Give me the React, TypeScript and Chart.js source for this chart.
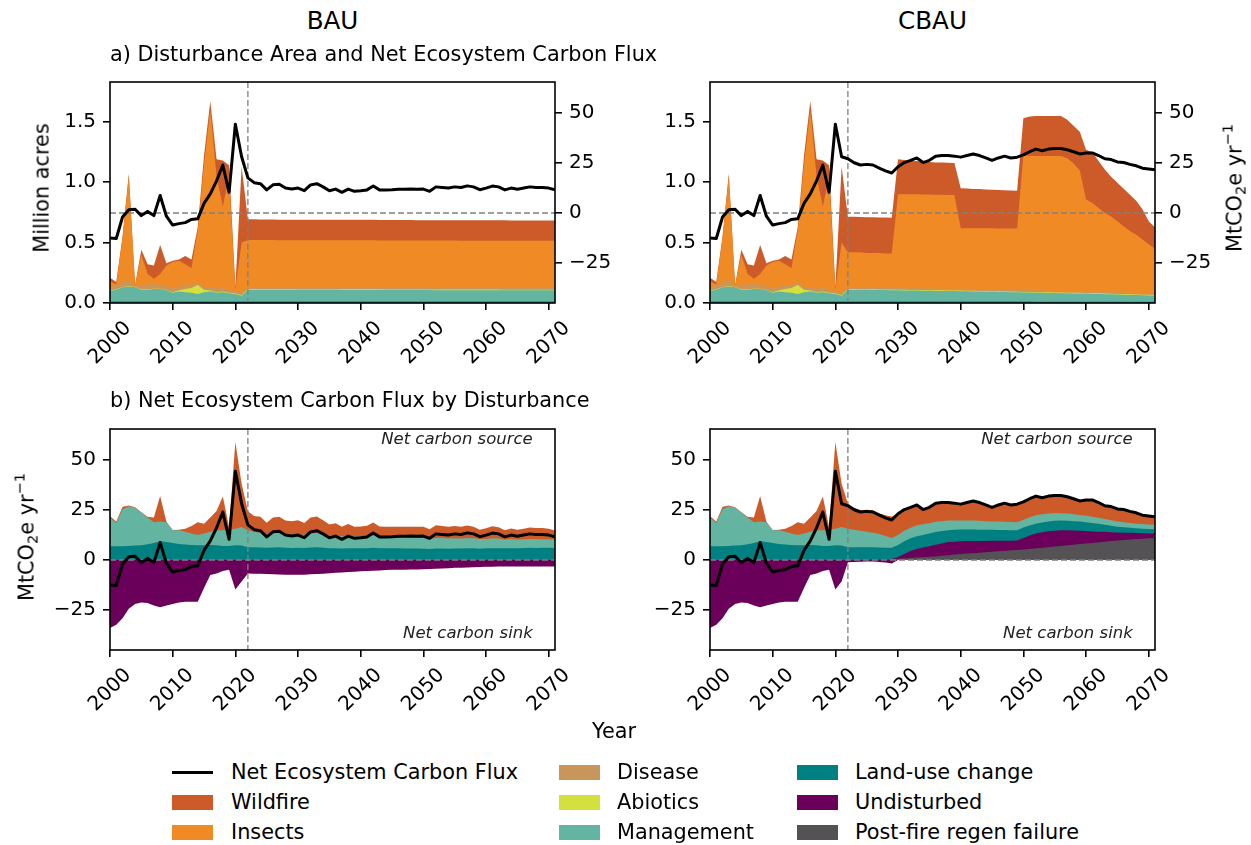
import React, { useEffect, useRef } from 'react';
import { Chart, registerables } from 'chart.js';
Chart.register(...registerables);

const FONT = '"DejaVu Sans"';
const TICK_PX = 20;
const TEXT_PX = 20.8;

// ---------------- categories / ticks ----------------
const YEARS = Array.from({ length: 72 }, (_, i) => 2000 + i);
const X_MIN = 2000;
const X_MAX = 2071;
const PROJECTION_YEAR = 2022;
const X_TICKS = [2000, 2010, 2020, 2030, 2040, 2050, 2060, 2070];
const X_TICK_LABELS = ['2000', '2010', '2020', '2030', '2040', '2050', '2060', '2070'];
const AREA_TICKS = [0, 0.5, 1.0, 1.5];
const FLUX_TICKS = [-25, 0, 25, 50];
const AREA_MIN = 0, AREA_MAX = 1.83;
const FLUX_MIN = -44.8, FLUX_MAX = 65.2;

// ---------------- historical 2000-2021 (shared) ----------------
// disturbance area, million acres
const H_LUC_A = [0.012, 0.012, 0.012, 0.012, 0.012, 0.012, 0.012, 0.012, 0.012, 0.012, 0.012, 0.012, 0.012, 0.012, 0.012, 0.012, 0.012, 0.012, 0.012, 0.012, 0.012, 0.012];
const H_MGMT_A = [0.088, 0.098, 0.118, 0.123, 0.118, 0.098, 0.098, 0.103, 0.103, 0.093, 0.073, 0.083, 0.078, 0.073, 0.063, 0.078, 0.083, 0.073, 0.078, 0.068, 0.063, 0.048];
const H_ABIO_A = [0.003, 0.003, 0.003, 0.003, 0.003, 0.003, 0.003, 0.003, 0.003, 0.003, 0.005, 0.010, 0.025, 0.040, 0.075, 0.020, 0.008, 0.005, 0.005, 0.005, 0.005, 0.005];
const H_DIS_A = [0.03, 0.03, 0.04, 0.05, 0.015, 0.03, 0.04, 0.04, 0.03, 0.03, 0.03, 0.03, 0.03, 0.025, 0.02, 0.02, 0.03, 0.03, 0.03, 0.02, 0.02, 0.02];
const H_INS_A = [0.047, 0.01, 0.367, 0.862, 0, 0.257, 0.087, 0.042, 0.092, 0.172, 0.22, 0.215, 0.175, 0.14, 0.43, 1.02, 1.467, 0.93, 0.675, 0.945, 0.01, 0.415];
const H_WF_A = [0.03, 0.02, 0.01, 0.02, 0, 0.04, 0.08, 0.11, 0.24, 0.02, 0.01, 0.01, 0.07, 0.07, 0.03, 0.07, 0.07, 0.14, 0.38, 0.09, 0.02, 0.63];
// carbon flux, MtCO2e/yr
const H_FLUX = [-12.4, -12.7, -2.0, 1.6, 1.9, -1.3, 0.8, -1.3, 8.7, -1.6, -6.0, -5.3, -4.8, -3.2, -2.9, 4.8, 9.5, 16.0, 23.9, 10.3, 44.2, 28.0];
const H_LUC_F = [6.9, 6.9, 6.9, 7.0, 7.2, 7.4, 7.8, 8.5, 9.3, 9.0, 8.5, 8.0, 7.7, 7.5, 7.3, 7.4, 7.5, 7.3, 7.0, 7.0, 7.3, 7.2];
const H_MGMT_F = [14.3, 11.6, 18.3, 19.8, 18.8, 16.2, 13.4, 10.3, 9.9, 9.8, 6.3, 6.8, 6.3, 5.7, 5.2, 5.8, 6.5, 7.5, 7.8, 8.2, 8.3, 9.2];
const H_WF_F = [0.6, 0.7, 1.3, 0.3, 0.3, 0.2, 0.3, 2.4, 12.7, 0.2, 0.1, 0.2, 1.6, 3.7, 6.3, 4.8, 7.2, 9.6, 16.8, 1.2, 43.1, 21.6];
const H_UND_F = [-33.8, -32.2, -29.0, -24.3, -21.9, -21.1, -21.4, -22.7, -23.5, -22.7, -21.9, -21.1, -20.8, -20.8, -20.8, -13.9, -7.5, -6.7, -5.5, -4.8, -14.7, -10.7];
const H_PF_F = [0, 0, 0, 0, 0, 0, 0, 0, 0, 0, 0, 0, 0, 0, 0, 0, 0, 0, 0, 0, 0, 0];

// ---------------- BAU projection 2022-2071 ----------------
const BAU_LUC_A = [0.012, 0.012, 0.012, 0.012, 0.012, 0.012, 0.012, 0.012, 0.012, 0.012, 0.012, 0.012, 0.012, 0.012, 0.012, 0.012, 0.012, 0.012, 0.012, 0.012, 0.012, 0.012, 0.012, 0.012, 0.012, 0.012, 0.012, 0.012, 0.012, 0.012, 0.012, 0.012, 0.012, 0.012, 0.012, 0.012, 0.012, 0.012, 0.012, 0.012, 0.012, 0.012, 0.012, 0.012, 0.012, 0.012, 0.012, 0.012, 0.012, 0.012];
const BAU_MGMT_A = [0.098, 0.098, 0.098, 0.098, 0.098, 0.098, 0.098, 0.098, 0.097, 0.097, 0.097, 0.097, 0.097, 0.097, 0.097, 0.096, 0.096, 0.096, 0.096, 0.096, 0.096, 0.096, 0.095, 0.095, 0.095, 0.095, 0.095, 0.095, 0.095, 0.095, 0.094, 0.094, 0.094, 0.094, 0.094, 0.094, 0.094, 0.094, 0.094, 0.094, 0.094, 0.093, 0.093, 0.093, 0.093, 0.093, 0.093, 0.093, 0.093, 0.093];
const BAU_ABIO_A = [0.005, 0.005, 0.005, 0.005, 0.005, 0.005, 0.005, 0.005, 0.005, 0.005, 0.005, 0.005, 0.005, 0.005, 0.005, 0.005, 0.005, 0.005, 0.005, 0.005, 0.005, 0.005, 0.005, 0.005, 0.005, 0.005, 0.005, 0.005, 0.005, 0.005, 0.005, 0.005, 0.005, 0.005, 0.005, 0.005, 0.005, 0.005, 0.005, 0.005, 0.005, 0.005, 0.005, 0.005, 0.005, 0.005, 0.005, 0.005, 0.005, 0.005];
const BAU_DIS_A = [0.015, 0.015, 0.015, 0.015, 0.015, 0.015, 0.015, 0.015, 0.015, 0.015, 0.015, 0.015, 0.015, 0.015, 0.015, 0.015, 0.015, 0.015, 0.015, 0.015, 0.015, 0.015, 0.015, 0.015, 0.015, 0.015, 0.015, 0.015, 0.015, 0.015, 0.015, 0.015, 0.015, 0.015, 0.015, 0.015, 0.015, 0.015, 0.015, 0.015, 0.015, 0.015, 0.015, 0.015, 0.015, 0.015, 0.015, 0.015, 0.015, 0.015];
const BAU_INS_A = [0.392, 0.392, 0.391, 0.391, 0.391, 0.390, 0.390, 0.390, 0.391, 0.391, 0.391, 0.391, 0.390, 0.390, 0.390, 0.391, 0.391, 0.391, 0.391, 0.391, 0.391, 0.390, 0.391, 0.391, 0.391, 0.391, 0.391, 0.390, 0.390, 0.390, 0.391, 0.391, 0.391, 0.391, 0.390, 0.390, 0.390, 0.390, 0.390, 0.390, 0.390, 0.391, 0.391, 0.391, 0.391, 0.390, 0.390, 0.390, 0.390, 0.390];
const BAU_WF_A = [0.172, 0.172, 0.171, 0.171, 0.170, 0.170, 0.170, 0.170, 0.170, 0.170, 0.170, 0.170, 0.170, 0.170, 0.170, 0.170, 0.170, 0.170, 0.170, 0.170, 0.170, 0.170, 0.170, 0.170, 0.170, 0.170, 0.170, 0.169, 0.169, 0.169, 0.169, 0.169, 0.169, 0.169, 0.169, 0.169, 0.169, 0.169, 0.169, 0.169, 0.169, 0.169, 0.168, 0.168, 0.168, 0.168, 0.168, 0.168, 0.168, 0.168];
const BAU_FLUX = [17.5, 15.1, 14.6, 11.5, 14.0, 14.3, 12.4, 11.9, 12.4, 11.1, 14.0, 14.6, 13.0, 11.1, 11.9, 10.3, 11.9, 10.8, 11.1, 11.5, 13.4, 11.5, 11.5, 11.6, 11.8, 11.8, 11.9, 11.8, 11.9, 10.8, 13.0, 12.7, 12.4, 13.0, 12.7, 13.5, 13.0, 11.6, 12.4, 13.4, 13.0, 11.5, 12.4, 11.8, 12.4, 13.0, 12.7, 12.7, 12.4, 11.5];
const BAU_LUC_F = [6.4, 6.3, 6.2, 6.1, 6.2, 6.3, 6.1, 6.0, 6.1, 6.0, 6.2, 6.3, 6.1, 5.8, 5.9, 5.7, 5.9, 5.8, 5.9, 5.9, 6.1, 5.9, 5.8, 5.8, 5.8, 5.7, 5.7, 5.7, 5.6, 5.5, 5.7, 5.7, 5.6, 5.7, 5.7, 5.8, 5.8, 5.6, 5.8, 5.9, 5.9, 5.8, 5.9, 5.9, 6.0, 6.1, 6.0, 6.1, 6.1, 6.0];
const BAU_MGMT_F = [8.4, 7.7, 7.4, 6.7, 7.2, 7.3, 7.1, 6.8, 6.4, 6.6, 7.0, 7.1, 6.8, 6.3, 6.4, 6.1, 6.3, 6.0, 5.8, 5.9, 6.2, 5.8, 5.7, 5.4, 5.5, 5.5, 5.4, 5.3, 5.3, 5.1, 5.3, 5.2, 5.1, 5.1, 5.0, 5.1, 5.0, 4.8, 4.7, 4.9, 4.8, 4.4, 4.5, 4.3, 4.3, 4.4, 4.4, 4.2, 4.2, 4.1];
const BAU_WF_F = [9.4, 7.9, 7.9, 5.7, 7.7, 7.9, 6.5, 6.5, 7.3, 5.8, 7.9, 8.2, 6.9, 5.6, 6.0, 4.7, 5.7, 4.8, 5.0, 5.2, 6.4, 5.0, 5.0, 5.3, 5.3, 5.4, 5.5, 5.5, 5.6, 4.7, 6.3, 6.0, 5.8, 6.1, 5.8, 6.3, 5.8, 4.7, 5.3, 6.0, 5.6, 4.6, 5.3, 4.8, 5.3, 5.7, 5.5, 5.6, 5.3, 4.6];
const BAU_UND_F = [-6.7, -6.8, -6.9, -7.0, -7.1, -7.2, -7.3, -7.4, -7.4, -7.3, -7.1, -7.0, -6.8, -6.6, -6.4, -6.2, -6.0, -5.8, -5.6, -5.5, -5.3, -5.2, -5.0, -4.9, -4.8, -4.8, -4.7, -4.7, -4.6, -4.5, -4.3, -4.2, -4.1, -3.9, -3.8, -3.7, -3.6, -3.5, -3.4, -3.4, -3.3, -3.3, -3.3, -3.2, -3.2, -3.2, -3.2, -3.2, -3.2, -3.2];

// ---------------- CBAU projection 2022-2071 ----------------
const CB_LUC_A = [0.012, 0.012, 0.012, 0.012, 0.012, 0.012, 0.012, 0.012, 0.012, 0.012, 0.012, 0.012, 0.012, 0.012, 0.012, 0.012, 0.012, 0.012, 0.012, 0.012, 0.012, 0.012, 0.012, 0.012, 0.012, 0.012, 0.012, 0.012, 0.012, 0.012, 0.011, 0.011, 0.011, 0.011, 0.011, 0.011, 0.011, 0.011, 0.011, 0.011, 0.010, 0.010, 0.010, 0.010, 0.010, 0.010, 0.010, 0.010, 0.010, 0.010];
const CB_MGMT_A = [0.098, 0.098, 0.097, 0.097, 0.096, 0.095, 0.095, 0.094, 0.093, 0.092, 0.091, 0.091, 0.090, 0.089, 0.088, 0.088, 0.087, 0.087, 0.086, 0.085, 0.084, 0.083, 0.082, 0.081, 0.080, 0.079, 0.078, 0.077, 0.075, 0.074, 0.074, 0.073, 0.072, 0.071, 0.070, 0.069, 0.068, 0.068, 0.067, 0.066, 0.065, 0.063, 0.062, 0.060, 0.059, 0.057, 0.056, 0.054, 0.053, 0.051];
const CB_ABIO_A = [0.005, 0.005, 0.005, 0.005, 0.005, 0.005, 0.005, 0.005, 0.005, 0.005, 0.005, 0.005, 0.005, 0.005, 0.005, 0.005, 0.005, 0.005, 0.005, 0.005, 0.005, 0.005, 0.005, 0.005, 0.005, 0.005, 0.005, 0.005, 0.005, 0.005, 0.005, 0.005, 0.005, 0.005, 0.005, 0.005, 0.005, 0.005, 0.005, 0.005, 0.005, 0.005, 0.005, 0.005, 0.005, 0.005, 0.005, 0.005, 0.005, 0.005];
const CB_DIS_A = [0.015, 0.015, 0.015, 0.015, 0.015, 0.015, 0.015, 0.015, 0.015, 0.015, 0.015, 0.015, 0.015, 0.015, 0.015, 0.015, 0.015, 0.015, 0.015, 0.015, 0.015, 0.015, 0.015, 0.015, 0.015, 0.015, 0.015, 0.015, 0.015, 0.015, 0.014, 0.014, 0.014, 0.014, 0.014, 0.014, 0.014, 0.014, 0.014, 0.014, 0.013, 0.013, 0.013, 0.013, 0.013, 0.013, 0.013, 0.013, 0.013, 0.013];
const CB_INS_A = [0.29, 0.29, 0.291, 0.286, 0.287, 0.288, 0.283, 0.284, 0.775, 0.776, 0.777, 0.777, 0.776, 0.777, 0.776, 0.776, 0.776, 0.775, 0.502, 0.503, 0.503, 0.504, 0.504, 0.505, 0.505, 0.506, 0.506, 0.507, 1.113, 1.114, 1.114, 1.115, 1.116, 1.117, 1.118, 1.099, 1.06, 1.0, 0.761, 0.732, 0.693, 0.655, 0.626, 0.588, 0.549, 0.511, 0.482, 0.444, 0.405, 0.372];
const CB_WF_A = [0.294, 0.294, 0.293, 0.296, 0.295, 0.294, 0.297, 0.296, 0.29, 0.285, 0.28, 0.275, 0.272, 0.27, 0.268, 0.268, 0.266, 0.266, 0.33, 0.328, 0.326, 0.324, 0.322, 0.32, 0.318, 0.316, 0.315, 0.314, 0.31, 0.325, 0.33, 0.33, 0.33, 0.33, 0.33, 0.32, 0.31, 0.32, 0.41, 0.42, 0.39, 0.36, 0.33, 0.32, 0.31, 0.30, 0.28, 0.25, 0.19, 0.175];
const CB_FLUX = [27.0, 25.0, 23.9, 24.2, 23.9, 22.3, 21.0, 19.9, 23.0, 25.1, 26.2, 27.4, 25.1, 26.2, 28.3, 28.6, 28.6, 28.3, 27.8, 28.6, 29.4, 28.6, 27.4, 26.2, 27.4, 28.3, 27.4, 27.8, 28.9, 30.5, 31.8, 31.0, 31.8, 32.1, 32.1, 31.5, 30.5, 29.4, 29.9, 29.9, 28.6, 27.0, 26.6, 25.4, 25.1, 24.2, 23.5, 22.3, 21.9, 21.5];
const CB_PF_F = [0, 0, 0, 0.1, 0.2, 0.3, 0.4, 0.5, 0.6, 0.8, 1.0, 1.2, 1.4, 1.6, 1.8, 2.1, 2.4, 2.7, 3.0, 3.2, 3.4, 3.6, 3.9, 4.1, 4.3, 4.5, 4.8, 5.0, 5.2, 5.5, 5.8, 6.1, 6.4, 6.7, 7.0, 7.3, 7.6, 7.9, 8.2, 8.5, 8.8, 9.1, 9.4, 9.7, 10.0, 10.2, 10.4, 10.6, 10.8, 11.0];
const CB_UND_F = [-1.1, -1.0, -0.9, -0.8, -0.8, -1.0, -1.3, -1.8, 0.9, 2.2, 3.5, 4.3, 4.8, 5.3, 5.8, 6.1, 6.5, 6.4, 6.3, 6.2, 6.1, 5.9, 5.6, 5.5, 5.3, 5.1, 4.8, 4.7, 5.8, 6.7, 7.4, 7.7, 7.9, 7.9, 7.8, 7.5, 7.1, 6.7, 6.2, 5.7, 5.3, 4.9, 4.4, 4.0, 3.6, 3.3, 3.0, 2.7, 2.4, 2.2];
const CB_LUC_F = [6.4, 6.4, 6.3, 6.3, 6.1, 5.9, 5.7, 5.6, 6.0, 6.3, 6.3, 6.3, 6.3, 6.3, 6.3, 6.2, 5.9, 5.9, 5.9, 5.8, 5.7, 5.6, 5.5, 5.4, 5.3, 5.3, 5.2, 5.1, 5.2, 5.0, 4.8, 4.9, 4.9, 4.9, 4.8, 4.7, 4.6, 4.5, 4.4, 4.2, 3.9, 3.5, 3.2, 2.9, 2.7, 2.5, 2.4, 2.3, 2.2, 2.1];
const CB_MGMT_F = [9.2, 8.6, 8.3, 7.6, 7.3, 6.7, 5.9, 4.8, 5.0, 5.2, 5.2, 5.5, 5.3, 5.1, 5.1, 4.9, 4.8, 4.6, 4.4, 4.4, 4.4, 4.4, 4.3, 4.2, 4.2, 4.1, 4.1, 4.0, 3.8, 4.1, 4.3, 4.1, 4.0, 3.9, 3.7, 3.6, 3.5, 3.3, 3.2, 3.1, 3.0, 2.9, 2.8, 2.6, 2.5, 2.4, 2.3, 2.3, 2.3, 2.3];
const CB_WF_F = [12.5, 11.0, 10.2, 11.0, 11.1, 10.4, 10.3, 10.8, 10.5, 10.6, 10.2, 10.1, 7.3, 7.9, 9.3, 9.3, 9.0, 8.7, 8.2, 9.0, 9.8, 9.1, 8.1, 7.0, 8.3, 9.3, 8.5, 9.0, 8.9, 9.2, 9.5, 8.2, 8.6, 8.7, 8.8, 8.4, 7.7, 7.0, 7.9, 8.4, 7.6, 6.6, 6.8, 6.2, 6.3, 5.8, 5.4, 4.4, 4.2, 3.9];

// ---------------- colours ----------------
const C_WILDFIRE = '#CD5B2A';
const C_INSECTS = '#F08A24';
const C_DISEASE = '#C8965A';
const C_ABIOTICS = '#D4E03E';
const C_MGMT = '#63B4A1';
const C_LUC = '#008080';
const C_UND = '#6A005A';
const C_PF = '#545254';
const C_REF = '#808080';

const LEGEND_LABELS = ['Net Ecosystem Carbon Flux', 'Wildfire', 'Insects', 'Disease', 'Abiotics', 'Management', 'Land-use change', 'Undisturbed', 'Post-fire regen failure'];
const LEGEND_COLORS = ['#000000', C_WILDFIRE, C_INSECTS, C_DISEASE, C_ABIOTICS, C_MGMT, C_LUC, C_UND, C_PF];

// ---------------- layout ----------------
const PW = 445, PH = 230;
const ML = 80, MR = 80, MT = 10, MB = 80;
const CW = PW + ML + MR, CH = PH + MT + MB;

// ---------------- helpers ----------------
const pts = (ys: number[]) => ys.map((y, i) => ({ x: YEARS[i], y }));

function stackPositive(layers: number[][]) {
  const out: number[][] = [];
  let acc = layers[0].map(() => 0);
  for (const l of layers) {
    acc = acc.map((a, i) => a + Math.max(0, l[i]));
    out.push(acc);
  }
  return out;
}

function areaDataset(values: number[], color: string, axis: string) {
  return {
    type: 'line',
    data: pts(values),
    yAxisID: axis,
    fill: 'origin',
    backgroundColor: color,
    borderColor: 'rgba(0,0,0,0)',
    borderWidth: 0,
    pointRadius: 0,
    tension: 0,
  };
}

function fluxDataset(values: number[], axis: string) {
  return {
    type: 'line',
    data: pts(values),
    yAxisID: axis,
    fill: false,
    borderColor: '#000000',
    borderWidth: 3,
    borderJoinStyle: 'round',
    pointRadius: 0,
    tension: 0,
  };
}

const gridOpts = {
  display: true,
  drawOnChartArea: false,
  drawTicks: true,
  tickLength: 7,
  tickWidth: 1.6,
  tickColor: '#000000',
  lineWidth: 1.6,
  color: '#000000',
};

const fmtFlux = (v: number) => (v < 0 ? '\u2212' + Math.abs(v) : String(v));

function yAxis(position: string, min: number, max: number, ticks: number[], fmt: (v: number) => string) {
  return {
    type: 'linear',
    position,
    min,
    max,
    afterBuildTicks: (s: any) => { s.ticks = ticks.map((v) => ({ value: v })); },
    ticks: { font: { family: 'DejaVu Sans', size: TICK_PX }, color: '#000000', padding: 7, autoSkip: false, callback: (v: any) => fmt(Number(v)) },
    grid: gridOpts,
    border: { display: false },
    afterFit: (s: any) => { s.width = position === 'left' ? ML : MR; },
  };
}

const xAxis = () => ({
  type: 'linear',
  min: X_MIN,
  max: X_MAX,
  afterBuildTicks: (s: any) => { s.ticks = X_TICKS.map((v) => ({ value: v })); },
  ticks: { display: false },
  grid: gridOpts,
  border: { display: false },
  afterFit: (s: any) => { s.height = MB; },
});

const figPlugin = {
  id: 'fig',
  beforeDatasetDraw(chart: any, args: any, opts: any) {
    if (args.index !== 0) return;
    const { ctx, chartArea: ca, scales } = chart;
    ctx.save();
    ctx.strokeStyle = C_REF;
    ctx.lineWidth = 1.3;
    ctx.setLineDash([6, 3]);
    const xv = scales.x.getPixelForValue(PROJECTION_YEAR);
    ctx.beginPath(); ctx.moveTo(xv, ca.top); ctx.lineTo(xv, ca.bottom); ctx.stroke();
    const y0 = scales[opts.refAxis].getPixelForValue(0);
    ctx.beginPath(); ctx.moveTo(ca.left, y0); ctx.lineTo(ca.right, y0); ctx.stroke();
    ctx.restore();
  },
  afterDatasetsDraw(chart: any) {
    const { ctx, chartArea: ca } = chart;
    ctx.save();
    ctx.strokeStyle = '#000000';
    ctx.lineWidth = 1.6;
    ctx.strokeRect(ca.left, ca.top, ca.right - ca.left, ca.bottom - ca.top);
    ctx.restore();
  },
  afterDraw(chart: any) {
    const { ctx, chartArea: ca, scales } = chart;
    ctx.save();
    ctx.font = `${TICK_PX}px ${FONT}`;
    ctx.fillStyle = '#000000';
    ctx.textAlign = 'center';
    ctx.textBaseline = 'middle';
    X_TICKS.forEach((v, i) => {
      const x = scales.x.getPixelForValue(v);
      ctx.save();
      ctx.translate(x, ca.bottom + 40);
      ctx.rotate(-Math.PI / 4);
      ctx.fillText(X_TICK_LABELS[i], 0, 0);
      ctx.restore();
    });
    ctx.restore();
  },
};

function baseOptions(scales: any, refAxis: string, hasRight: boolean) {
  return {
    responsive: false,
    animation: false,
    devicePixelRatio: 1,
    events: [],
    layout: { padding: { top: MT, right: hasRight ? 0 : MR, left: 0, bottom: 0 } },
    plugins: { legend: { display: false }, tooltip: { enabled: false }, fig: { refAxis } },
    scales: { x: xAxis(), ...scales },
  };
}

function topConfig(layers: number[][], flux: number[]) {
  const colors = [C_LUC, C_MGMT, C_ABIOTICS, C_DISEASE, C_INSECTS, C_WILDFIRE];
  const cum = stackPositive(layers);
  return {
    type: 'line',
    data: { datasets: [fluxDataset(flux, 'y1'), ...cum.map((c, k) => areaDataset(c, colors[k], 'y'))] },
    options: baseOptions({
      y: yAxis('left', AREA_MIN, AREA_MAX, AREA_TICKS, (v) => v.toFixed(1)),
      y1: yAxis('right', FLUX_MIN, FLUX_MAX, FLUX_TICKS, fmtFlux),
    }, 'y1', true),
    plugins: [figPlugin],
  };
}

function bottomConfig(layers: number[][], colors: string[], und: number[], flux: number[]) {
  const cum = stackPositive(layers);
  const neg = und.map((v) => Math.min(0, v));
  return {
    type: 'line',
    data: { datasets: [fluxDataset(flux, 'y'), ...cum.map((c, k) => areaDataset(c, colors[k], 'y')), areaDataset(neg, C_UND, 'y')] },
    options: baseOptions({ y: yAxis('left', FLUX_MIN, FLUX_MAX, FLUX_TICKS, fmtFlux) }, 'y', false),
    plugins: [figPlugin],
  };
}

// ---------------- scenario series ----------------
const bauTop = [
  [...H_LUC_A, ...BAU_LUC_A], [...H_MGMT_A, ...BAU_MGMT_A], [...H_ABIO_A, ...BAU_ABIO_A],
  [...H_DIS_A, ...BAU_DIS_A], [...H_INS_A, ...BAU_INS_A], [...H_WF_A, ...BAU_WF_A],
];
const cbTop = [
  [...H_LUC_A, ...CB_LUC_A], [...H_MGMT_A, ...CB_MGMT_A], [...H_ABIO_A, ...CB_ABIO_A],
  [...H_DIS_A, ...CB_DIS_A], [...H_INS_A, ...CB_INS_A], [...H_WF_A, ...CB_WF_A],
];
const bauFlux = [...H_FLUX, ...BAU_FLUX];
const cbFlux = [...H_FLUX, ...CB_FLUX];
const bauUnd = [...H_UND_F, ...BAU_UND_F];
const cbUnd = [...H_UND_F, ...CB_UND_F];
const bauBottom = [bauUnd, [...H_LUC_F, ...BAU_LUC_F], [...H_MGMT_F, ...BAU_MGMT_F], [...H_WF_F, ...BAU_WF_F]];
const cbBottom = [[...H_PF_F, ...CB_PF_F], cbUnd, [...H_LUC_F, ...CB_LUC_F], [...H_MGMT_F, ...CB_MGMT_F], [...H_WF_F, ...CB_WF_F]];

// ---------------- components ----------------
function Panel({ left, top, build }: { left: number; top: number; build: () => any }) {
  const ref = useRef<HTMLCanvasElement>(null);
  useEffect(() => {
    const chart = new Chart(ref.current as HTMLCanvasElement, build());
    return () => chart.destroy();
  }, []);
  return <canvas ref={ref} width={CW} height={CH} style={{ position: 'absolute', left, top, width: CW, height: CH }} />;
}

function Txt({ x, y, align = 'center', rotate = 0, size = TEXT_PX, italic = false, color = '#000', children }: any) {
  const tx = align === 'center' ? '-50%' : align === 'left' ? '0' : '-100%';
  return (
    <div style={{
      position: 'absolute', left: x, top: y, whiteSpace: 'nowrap', lineHeight: 1,
      fontFamily: 'DejaVu Sans', fontSize: size, fontStyle: italic ? 'italic' : 'normal', color,
      transform: `translate(${tx}, -50%) rotate(${rotate}deg)`,
    }}>{children}</div>
  );
}

const Unit = () => (
  <span>MtCO<span style={{ fontSize: '70%', verticalAlign: '-0.25em' }}>2</span>e yr<span style={{ fontSize: '70%', verticalAlign: '0.6em' }}>{'\u22121'}</span></span>
);

function Legend() {
  const colHandle = [172, 559, 797];
  const colText = [231, 617, 855];
  const rows = [772, 802, 832];
  return (
    <>
      {LEGEND_LABELS.map((lab, i) => {
        const c = Math.floor(i / 3), r = i % 3;
        const isLine = i === 0;
        return (
          <React.Fragment key={lab}>
            <div style={{
              position: 'absolute', left: colHandle[c], width: 41,
              top: isLine ? rows[r] - 1.5 : rows[r] - 7.5, height: isLine ? 3 : 15,
              background: LEGEND_COLORS[i],
            }} />
            <Txt x={colText[c]} y={rows[r]} align="left">{lab}</Txt>
          </React.Fragment>
        );
      })}
    </>
  );
}

export default function App() {
  const L1 = 110, L2 = 710, T1 = 73, T2 = 420;
  return (
    <div style={{ position: 'absolute', left: 0, top: 0, width: 1251, height: 845, background: '#fff', overflow: 'hidden' }}>
      <Panel left={L1 - ML} top={T1 - MT} build={() => topConfig(bauTop, bauFlux)} />
      <Panel left={L2 - ML} top={T1 - MT} build={() => topConfig(cbTop, cbFlux)} />
      <Panel left={L1 - ML} top={T2 - MT} build={() => bottomConfig(bauBottom, [C_UND, C_LUC, C_MGMT, C_WILDFIRE], bauUnd, bauFlux)} />
      <Panel left={L2 - ML} top={T2 - MT} build={() => bottomConfig(cbBottom, [C_PF, C_UND, C_LUC, C_MGMT, C_WILDFIRE], cbUnd, cbFlux)} />

      <Txt x={L1 + PW / 2} y={21} size={24.6}>BAU</Txt>
      <Txt x={L2 + PW / 2} y={21} size={24.6}>CBAU</Txt>
      <Txt x={L1} y={54} align="left">a) Disturbance Area and Net Ecosystem Carbon Flux</Txt>
      <Txt x={L1} y={400} align="left">b) Net Ecosystem Carbon Flux by Disturbance</Txt>

      <Txt x={42} y={T1 + PH / 2} rotate={-90}>Million acres</Txt>
      <Txt x={1234} y={T1 + PH / 2} rotate={-90}><Unit /></Txt>
      <Txt x={26} y={T2 + PH / 2 + 2} rotate={-90}><Unit /></Txt>
      <Txt x={614} y={731}>Year</Txt>

      <Txt x={L1 + PW * 0.95} y={439} align="right" size={16.5} italic color="#222">Net carbon source</Txt>
      <Txt x={L1 + PW * 0.95} y={633} align="right" size={16.5} italic color="#222">Net carbon sink</Txt>
      <Txt x={L2 + PW * 0.95} y={439} align="right" size={16.5} italic color="#222">Net carbon source</Txt>
      <Txt x={L2 + PW * 0.95} y={633} align="right" size={16.5} italic color="#222">Net carbon sink</Txt>

      <Legend />
    </div>
  );
}
